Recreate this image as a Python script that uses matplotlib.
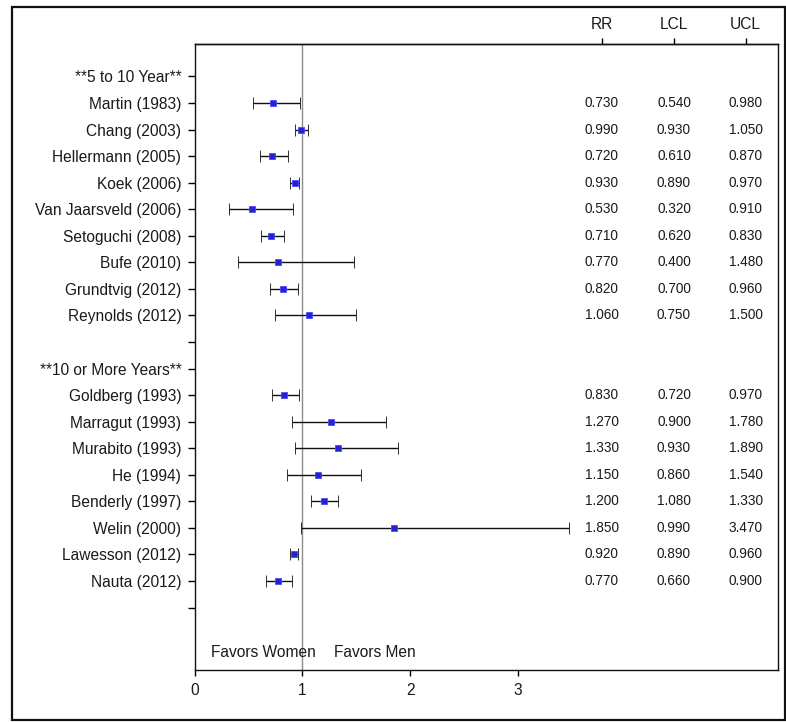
import matplotlib
matplotlib.use("Agg")
import matplotlib.pyplot as plt
from matplotlib.patches import Rectangle

plt.rcParams['font.family'] = ['Liberation Sans', 'DejaVu Sans']

# ---- data ----
header1 = "**5 to 10 Year**"
names1 = ["Martin (1983)", "Chang (2003)", "Hellermann (2005)", "Koek (2006)",
          "Van Jaarsveld (2006)", "Setoguchi (2008)", "Bufe (2010)",
          "Grundtvig (2012)", "Reynolds (2012)"]
rr1 = [0.73, 0.99, 0.72, 0.93, 0.53, 0.71, 0.77, 0.82, 1.06]
lcl1 = [0.54, 0.93, 0.61, 0.89, 0.32, 0.62, 0.40, 0.70, 0.75]
ucl1 = [0.98, 1.05, 0.87, 0.97, 0.91, 0.83, 1.48, 0.96, 1.50]

header2 = "**10 or More Years**"
names2 = ["Goldberg (1993)", "Marragut (1993)", "Murabito (1993)", "He (1994)",
          "Benderly (1997)", "Welin (2000)", "Lawesson (2012)", "Nauta (2012)"]
rr2 = [0.83, 1.27, 1.33, 1.15, 1.20, 1.85, 0.92, 0.77]
lcl2 = [0.72, 0.90, 0.93, 0.86, 1.08, 0.99, 0.89, 0.66]
ucl2 = [0.97, 1.78, 1.89, 1.54, 1.33, 3.47, 0.96, 0.90]

column_labels = ["RR", "LCL", "UCL"]
x_ticks = [0, 1, 2, 3]

# ---- rows ----
labels = [header1] + names1 + [""] + [header2] + names2 + [""]
rows_rr, rows_lcl, rows_ucl, rows_y = [], [], [], []
y = 1
for r, l, u in zip(rr1, lcl1, ucl1):
    rows_rr.append(r); rows_lcl.append(l); rows_ucl.append(u); rows_y.append(y); y += 1
y = 1 + len(names1) + 2
for r, l, u in zip(rr2, lcl2, ucl2):
    rows_rr.append(r); rows_lcl.append(l); rows_ucl.append(u); rows_y.append(y); y += 1

W, H = 786, 722
fig = plt.figure(figsize=(W / 100, H / 100), dpi=100)
fig.patch.set_facecolor('white')

# outer frame
fig.add_artist(Rectangle((12 / W, 1 - 720 / H), (785 - 12) / W, (720 - 6.5) / H,
                         transform=fig.transFigure, fill=False,
                         edgecolor='#111111', lw=1.6))

ax = fig.add_axes([194.5 / W, 1 - 670 / H, (777.7 - 194.5) / W, (670 - 44) / H])
ax.set_xlim(0, 5.41)
ax.set_ylim(22.35, -1.22)

text_color = '#1a1a1a'

ax.axvline(1, color='#8c8c8c', lw=1.0, zorder=1)

ax.errorbar(rows_rr, rows_y, xerr=[[r - l for r, l in zip(rows_rr, rows_lcl)],
                                   [u - r for r, u in zip(rows_rr, rows_ucl)]],
            fmt='s', color='#2323cf', markersize=4.6, markeredgecolor='#4a4aff',
            markeredgewidth=0.6, ecolor='#111111', elinewidth=1.0,
            capsize=4.3, capthick=1.0, zorder=3)

col_x = [3.777, 4.448, 5.113]
for r, l, u, yy in zip(rows_rr, rows_lcl, rows_ucl, rows_y):
    for xx, v in zip(col_x, (r, l, u)):
        ax.text(xx, yy, f"{v:.3f}", ha='center', va='center', fontsize=9.8,
                color=text_color)

ax.set_yticks(range(len(labels)))
ax.set_yticklabels(labels, fontsize=11.2, color=text_color)
ax.tick_params(axis='y', length=5, width=1, pad=4.5, direction='out')

ax.set_xticks(x_ticks)
ax.set_xticklabels([str(t) for t in x_ticks], fontsize=11.2, color=text_color)
ax.tick_params(axis='x', length=4.3, width=1, pad=5, direction='out')

sec = ax.secondary_xaxis('top')
sec.set_xticks(col_x)
sec.set_xticklabels(column_labels, fontsize=11.2, color=text_color)
sec.tick_params(axis='x', length=4.5, width=1, pad=4, direction='out')

for s in ax.spines.values():
    s.set_linewidth(1.0)
    s.set_color('#111111')
sec.spines['top'].set_linewidth(1.0)

ax.text(1.125, 21.7, "Favors Women", ha='right', va='center', fontsize=11.2,
        color=text_color)
ax.text(1.29, 21.7, "Favors Men", ha='left', va='center', fontsize=11.2,
        color=text_color)

fig.savefig("out.png", dpi=100, facecolor='white')
